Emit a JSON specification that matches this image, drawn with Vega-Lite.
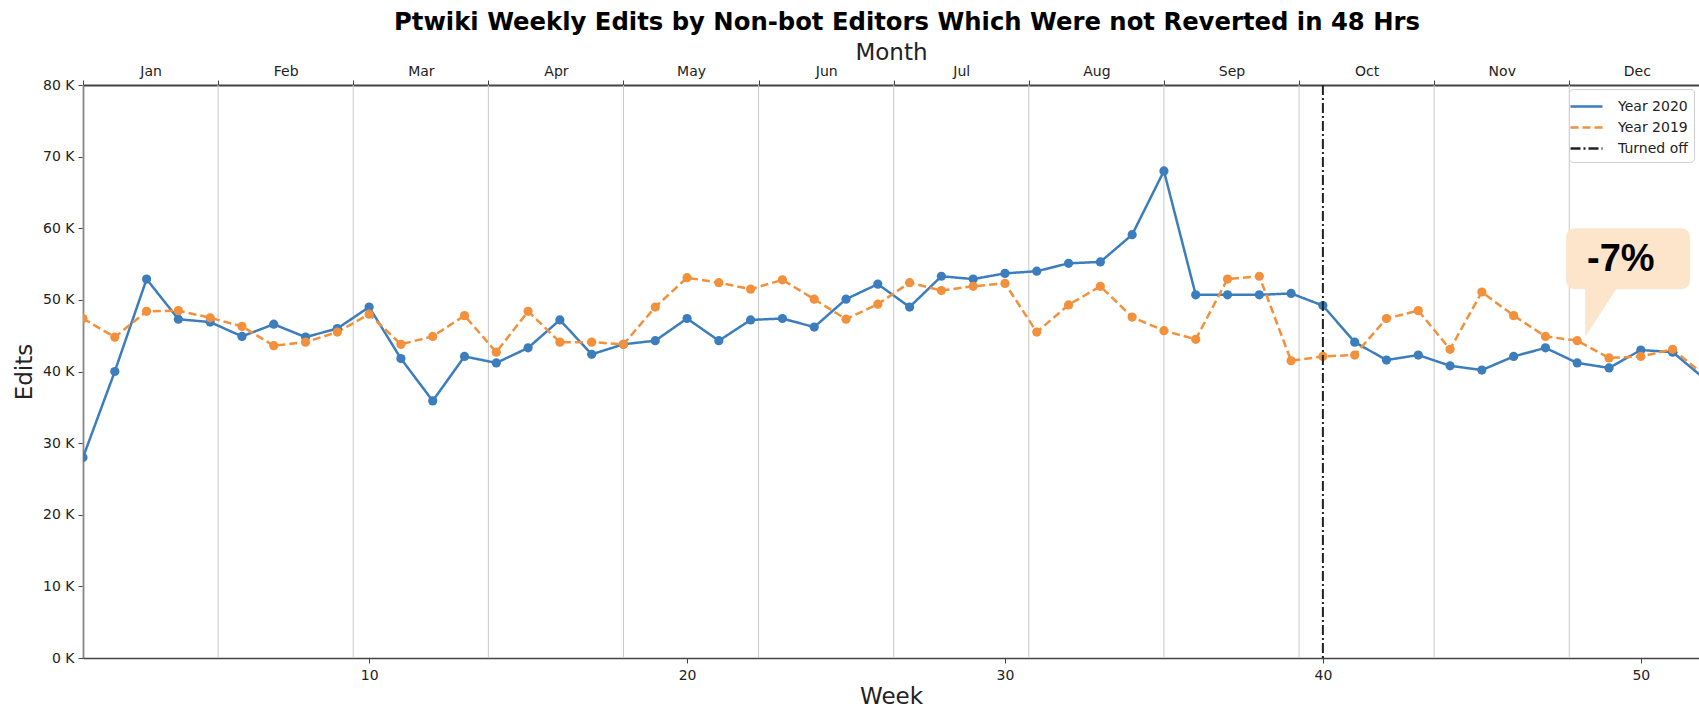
{
  "$schema": "https://vega.github.io/schema/vega-lite/v6.json",
  "width": 1616,
  "height": 573,
  "autosize": {"type": "none"},
  "padding": {"left": 83, "top": 85, "right": 0, "bottom": 52},
  "title": {
    "text": "Ptwiki Weekly Edits by Non-bot Editors Which Were not Reverted in 48 Hrs",
    "fontSize": 24.3,
    "fontWeight": "bold",
    "color": "#000000",
    "anchor": "middle",
    "offset": 6,
    "dx": 16
  },
  "config": {
    "view": {"stroke": null},
    "font": "DejaVu Sans",
    "axis": {
      "domainColor": "#444444",
      "domainWidth": 1.5,
      "tickColor": "#444444",
      "tickWidth": 1,
      "labelColor": "#222222",
      "titleColor": "#222222",
      "labelFontSize": 14,
      "titleFontSize": 23,
      "titleFontWeight": "normal",
      "grid": false
    }
  },
  "datasets": {
    "weekly": [
      {"week": 1, "series": "Year 2020", "edits": 28000},
      {"week": 2, "series": "Year 2020", "edits": 40000},
      {"week": 3, "series": "Year 2020", "edits": 52900},
      {"week": 4, "series": "Year 2020", "edits": 47300},
      {"week": 5, "series": "Year 2020", "edits": 46900},
      {"week": 6, "series": "Year 2020", "edits": 44900},
      {"week": 7, "series": "Year 2020", "edits": 46600},
      {"week": 8, "series": "Year 2020", "edits": 44800},
      {"week": 9, "series": "Year 2020", "edits": 46000},
      {"week": 10, "series": "Year 2020", "edits": 49000},
      {"week": 11, "series": "Year 2020", "edits": 41800},
      {"week": 12, "series": "Year 2020", "edits": 35900},
      {"week": 13, "series": "Year 2020", "edits": 42100},
      {"week": 14, "series": "Year 2020", "edits": 41200},
      {"week": 15, "series": "Year 2020", "edits": 43300},
      {"week": 16, "series": "Year 2020", "edits": 47200},
      {"week": 17, "series": "Year 2020", "edits": 42400},
      {"week": 18, "series": "Year 2020", "edits": 43800},
      {"week": 19, "series": "Year 2020", "edits": 44300},
      {"week": 20, "series": "Year 2020", "edits": 47400},
      {"week": 21, "series": "Year 2020", "edits": 44300},
      {"week": 22, "series": "Year 2020", "edits": 47200},
      {"week": 23, "series": "Year 2020", "edits": 47400},
      {"week": 24, "series": "Year 2020", "edits": 46200},
      {"week": 25, "series": "Year 2020", "edits": 50100},
      {"week": 26, "series": "Year 2020", "edits": 52200},
      {"week": 27, "series": "Year 2020", "edits": 49000},
      {"week": 28, "series": "Year 2020", "edits": 53300},
      {"week": 29, "series": "Year 2020", "edits": 52900},
      {"week": 30, "series": "Year 2020", "edits": 53700},
      {"week": 31, "series": "Year 2020", "edits": 54000},
      {"week": 32, "series": "Year 2020", "edits": 55100},
      {"week": 33, "series": "Year 2020", "edits": 55300},
      {"week": 34, "series": "Year 2020", "edits": 59100},
      {"week": 35, "series": "Year 2020", "edits": 68000},
      {"week": 36, "series": "Year 2020", "edits": 50700},
      {"week": 37, "series": "Year 2020", "edits": 50700},
      {"week": 38, "series": "Year 2020", "edits": 50700},
      {"week": 39, "series": "Year 2020", "edits": 50900},
      {"week": 40, "series": "Year 2020", "edits": 49200},
      {"week": 41, "series": "Year 2020", "edits": 44100},
      {"week": 42, "series": "Year 2020", "edits": 41600},
      {"week": 43, "series": "Year 2020", "edits": 42300},
      {"week": 44, "series": "Year 2020", "edits": 40800},
      {"week": 45, "series": "Year 2020", "edits": 40200},
      {"week": 46, "series": "Year 2020", "edits": 42100},
      {"week": 47, "series": "Year 2020", "edits": 43300},
      {"week": 48, "series": "Year 2020", "edits": 41200},
      {"week": 49, "series": "Year 2020", "edits": 40500},
      {"week": 50, "series": "Year 2020", "edits": 43000},
      {"week": 51, "series": "Year 2020", "edits": 42700},
      {"week": 52, "series": "Year 2020", "edits": 39000},
      {"week": 1, "series": "Year 2019", "edits": 47400},
      {"week": 2, "series": "Year 2019", "edits": 44800},
      {"week": 3, "series": "Year 2019", "edits": 48400},
      {"week": 4, "series": "Year 2019", "edits": 48500},
      {"week": 5, "series": "Year 2019", "edits": 47500},
      {"week": 6, "series": "Year 2019", "edits": 46300},
      {"week": 7, "series": "Year 2019", "edits": 43600},
      {"week": 8, "series": "Year 2019", "edits": 44100},
      {"week": 9, "series": "Year 2019", "edits": 45500},
      {"week": 10, "series": "Year 2019", "edits": 48000},
      {"week": 11, "series": "Year 2019", "edits": 43800},
      {"week": 12, "series": "Year 2019", "edits": 44900},
      {"week": 13, "series": "Year 2019", "edits": 47800},
      {"week": 14, "series": "Year 2019", "edits": 42700},
      {"week": 15, "series": "Year 2019", "edits": 48400},
      {"week": 16, "series": "Year 2019", "edits": 44100},
      {"week": 17, "series": "Year 2019", "edits": 44100},
      {"week": 18, "series": "Year 2019", "edits": 43800},
      {"week": 19, "series": "Year 2019", "edits": 49000},
      {"week": 20, "series": "Year 2019", "edits": 53100},
      {"week": 21, "series": "Year 2019", "edits": 52400},
      {"week": 22, "series": "Year 2019", "edits": 51500},
      {"week": 23, "series": "Year 2019", "edits": 52800},
      {"week": 24, "series": "Year 2019", "edits": 50100},
      {"week": 25, "series": "Year 2019", "edits": 47300},
      {"week": 26, "series": "Year 2019", "edits": 49400},
      {"week": 27, "series": "Year 2019", "edits": 52400},
      {"week": 28, "series": "Year 2019", "edits": 51300},
      {"week": 29, "series": "Year 2019", "edits": 51900},
      {"week": 30, "series": "Year 2019", "edits": 52300},
      {"week": 31, "series": "Year 2019", "edits": 45500},
      {"week": 32, "series": "Year 2019", "edits": 49300},
      {"week": 33, "series": "Year 2019", "edits": 51900},
      {"week": 34, "series": "Year 2019", "edits": 47600},
      {"week": 35, "series": "Year 2019", "edits": 45700},
      {"week": 36, "series": "Year 2019", "edits": 44500},
      {"week": 37, "series": "Year 2019", "edits": 52900},
      {"week": 38, "series": "Year 2019", "edits": 53300},
      {"week": 39, "series": "Year 2019", "edits": 41500},
      {"week": 40, "series": "Year 2019", "edits": 42100},
      {"week": 41, "series": "Year 2019", "edits": 42300},
      {"week": 42, "series": "Year 2019", "edits": 47400},
      {"week": 43, "series": "Year 2019", "edits": 48500},
      {"week": 44, "series": "Year 2019", "edits": 43100},
      {"week": 45, "series": "Year 2019", "edits": 51100},
      {"week": 46, "series": "Year 2019", "edits": 47800},
      {"week": 47, "series": "Year 2019", "edits": 44900},
      {"week": 48, "series": "Year 2019", "edits": 44300},
      {"week": 49, "series": "Year 2019", "edits": 41900},
      {"week": 50, "series": "Year 2019", "edits": 42100},
      {"week": 51, "series": "Year 2019", "edits": 43100},
      {"week": 52, "series": "Year 2019", "edits": 39500}
    ],
    "months": [
      {"month": "Jan", "start": 1},
      {"month": "Feb", "start": 5.25},
      {"month": "Mar", "start": 9.5},
      {"month": "Apr", "start": 13.75},
      {"month": "May", "start": 18},
      {"month": "Jun", "start": 22.25},
      {"month": "Jul", "start": 26.5},
      {"month": "Aug", "start": 30.75},
      {"month": "Sep", "start": 35},
      {"month": "Oct", "start": 39.25},
      {"month": "Nov", "start": 43.5},
      {"month": "Dec", "start": 47.75}
    ]
  },
  "layer": [
    {
      "data": {"name": "months"},
      "mark": {"type": "rule", "color": "#c8c8c8", "strokeWidth": 1},
      "encoding": {
        "x": {
          "field": "start",
          "type": "quantitative",
          "scale": {"domain": [1, 51.83], "nice": false, "zero": false},
          "axis": {
            "orient": "top",
            "title": "Month",
            "values": [1, 5.25, 9.5, 13.75, 18, 22.25, 26.5, 30.75, 35, 39.25, 43.5, 47.75],
            "labelExpr": "['Jan','Feb','Mar','Apr','May','Jun','Jul','Aug','Sep','Oct','Nov','Dec'][round((datum.value-1)/4.25)]",
            "labelOffset": 67.6,
            "labelAlign": "center",
            "labelOverlap": false,
            "labelFlush": false,
            "labelBound": false,
            "tickSize": 5,
            "labelPadding": 2,
            "titlePadding": 0,
            "domainWidth": 2
          }
        }
      }
    },
    {
      "layer": [
        {
          "data": {"name": "weekly"},
          "mark": {"type": "line", "strokeWidth": 2.5, "clip": true},
          "encoding": {
            "x": {
              "field": "week",
              "type": "quantitative",
              "scale": {"domain": [1, 51.83], "nice": false, "zero": false},
              "axis": {
                "orient": "bottom",
                "title": "Week",
                "values": [10, 20, 30, 40, 50],
                "format": "d",
                "tickSize": 5,
                "labelPadding": 5,
                "titlePadding": 3
              }
            },
            "y": {
              "field": "edits",
              "type": "quantitative",
              "scale": {"domain": [0, 80000], "nice": false},
              "axis": {
                "title": "Edits",
                "values": [0, 10000, 20000, 30000, 40000, 50000, 60000, 70000, 80000],
                "labelExpr": "(datum.value/1000) + ' K'",
                "tickSize": 5,
                "labelPadding": 4,
                "titlePadding": 6
              }
            },
            "color": {
              "field": "series",
              "type": "nominal",
              "scale": {
                "domain": ["Year 2020", "Year 2019", "Turned off"],
                "range": ["#3b7dbd", "#f2903c", "#222222"]
              },
              "legend": {
                "title": null,
                "orient": "none",
                "legendX": 1486,
                "legendY": 4,
                "symbolType": "M-1.6,0H1.6",
                "symbolSize": 400,
                "symbolStrokeWidth": 2.5,
                "labelFontSize": 14,
                "labelColor": "#222222",
                "labelOffset": 20,
                "rowPadding": 2,
                "padding": 6,
                "strokeColor": "#d0d0d0",
                "fillColor": "#ffffff",
                "cornerRadius": 4
              }
            },
            "strokeDash": {
              "field": "series",
              "type": "nominal",
              "scale": {
                "domain": ["Year 2020", "Year 2019", "Turned off"],
                "range": [[1, 0], [8, 4], [10, 3, 2, 3]]
              },
              "legend": {
                "title": null,
                "orient": "none",
                "legendX": 1486,
                "legendY": 4,
                "symbolType": "M-1.6,0H1.6",
                "symbolSize": 400,
                "symbolStrokeWidth": 2.5,
                "labelFontSize": 14,
                "labelColor": "#222222",
                "labelOffset": 20,
                "rowPadding": 2,
                "padding": 6,
                "strokeColor": "#d0d0d0",
                "fillColor": "#ffffff",
                "cornerRadius": 4
              }
            }
          }
        },
        {
          "data": {"name": "weekly"},
          "mark": {"type": "point", "filled": true, "size": 85, "opacity": 1, "clip": true},
          "encoding": {
            "x": {"field": "week", "type": "quantitative"},
            "y": {"field": "edits", "type": "quantitative"},
            "fill": {
              "field": "series",
              "type": "nominal",
              "scale": {"domain": ["Year 2020", "Year 2019"], "range": ["#3b7dbd", "#f2903c"]},
              "legend": null
            }
          }
        },
        {
          "data": {"values": [{"week": 40, "series": "Turned off"}]},
          "mark": {"type": "rule", "strokeWidth": 2},
          "encoding": {
            "x": {"field": "week", "type": "quantitative"},
            "color": {"field": "series", "type": "nominal"},
            "strokeDash": {"field": "series", "type": "nominal"}
          }
        },
        {
          "data": {"values": [{"w1": 47.65, "w2": 51.55, "e1": 60000, "e2": 51500}]},
          "mark": {"type": "rect", "color": "#fde5cc", "cornerRadius": 9, "opacity": 1},
          "encoding": {
            "x": {"field": "w1", "type": "quantitative"},
            "x2": {"field": "w2"},
            "y": {"field": "e1", "type": "quantitative"},
            "y2": {"field": "e2"}
          }
        },
        {
          "data": {"values": [{"w": 48.25, "lo": 44800, "hi": 51700}, {"w": 49.25, "lo": 51700, "hi": 51700}]},
          "mark": {"type": "area", "color": "#fde5cc", "opacity": 1, "orient": "vertical"},
          "encoding": {
            "x": {"field": "w", "type": "quantitative"},
            "y": {"field": "lo", "type": "quantitative"},
            "y2": {"field": "hi"}
          }
        },
        {
          "data": {"values": [{"w": 49.37, "e": 55600, "label": "-7%"}]},
          "mark": {"type": "text", "font": "Liberation Sans Narrow, Arial Narrow, Liberation Sans, Arial", "fontWeight": "bold", "fontSize": 38, "color": "#000000", "align": "center", "baseline": "middle"},
          "encoding": {
            "x": {"field": "w", "type": "quantitative"},
            "y": {"field": "e", "type": "quantitative"},
            "text": {"field": "label"}
          }
        }
      ]
    }
  ],
  "resolve": {"scale": {"x": "independent"}}
}
